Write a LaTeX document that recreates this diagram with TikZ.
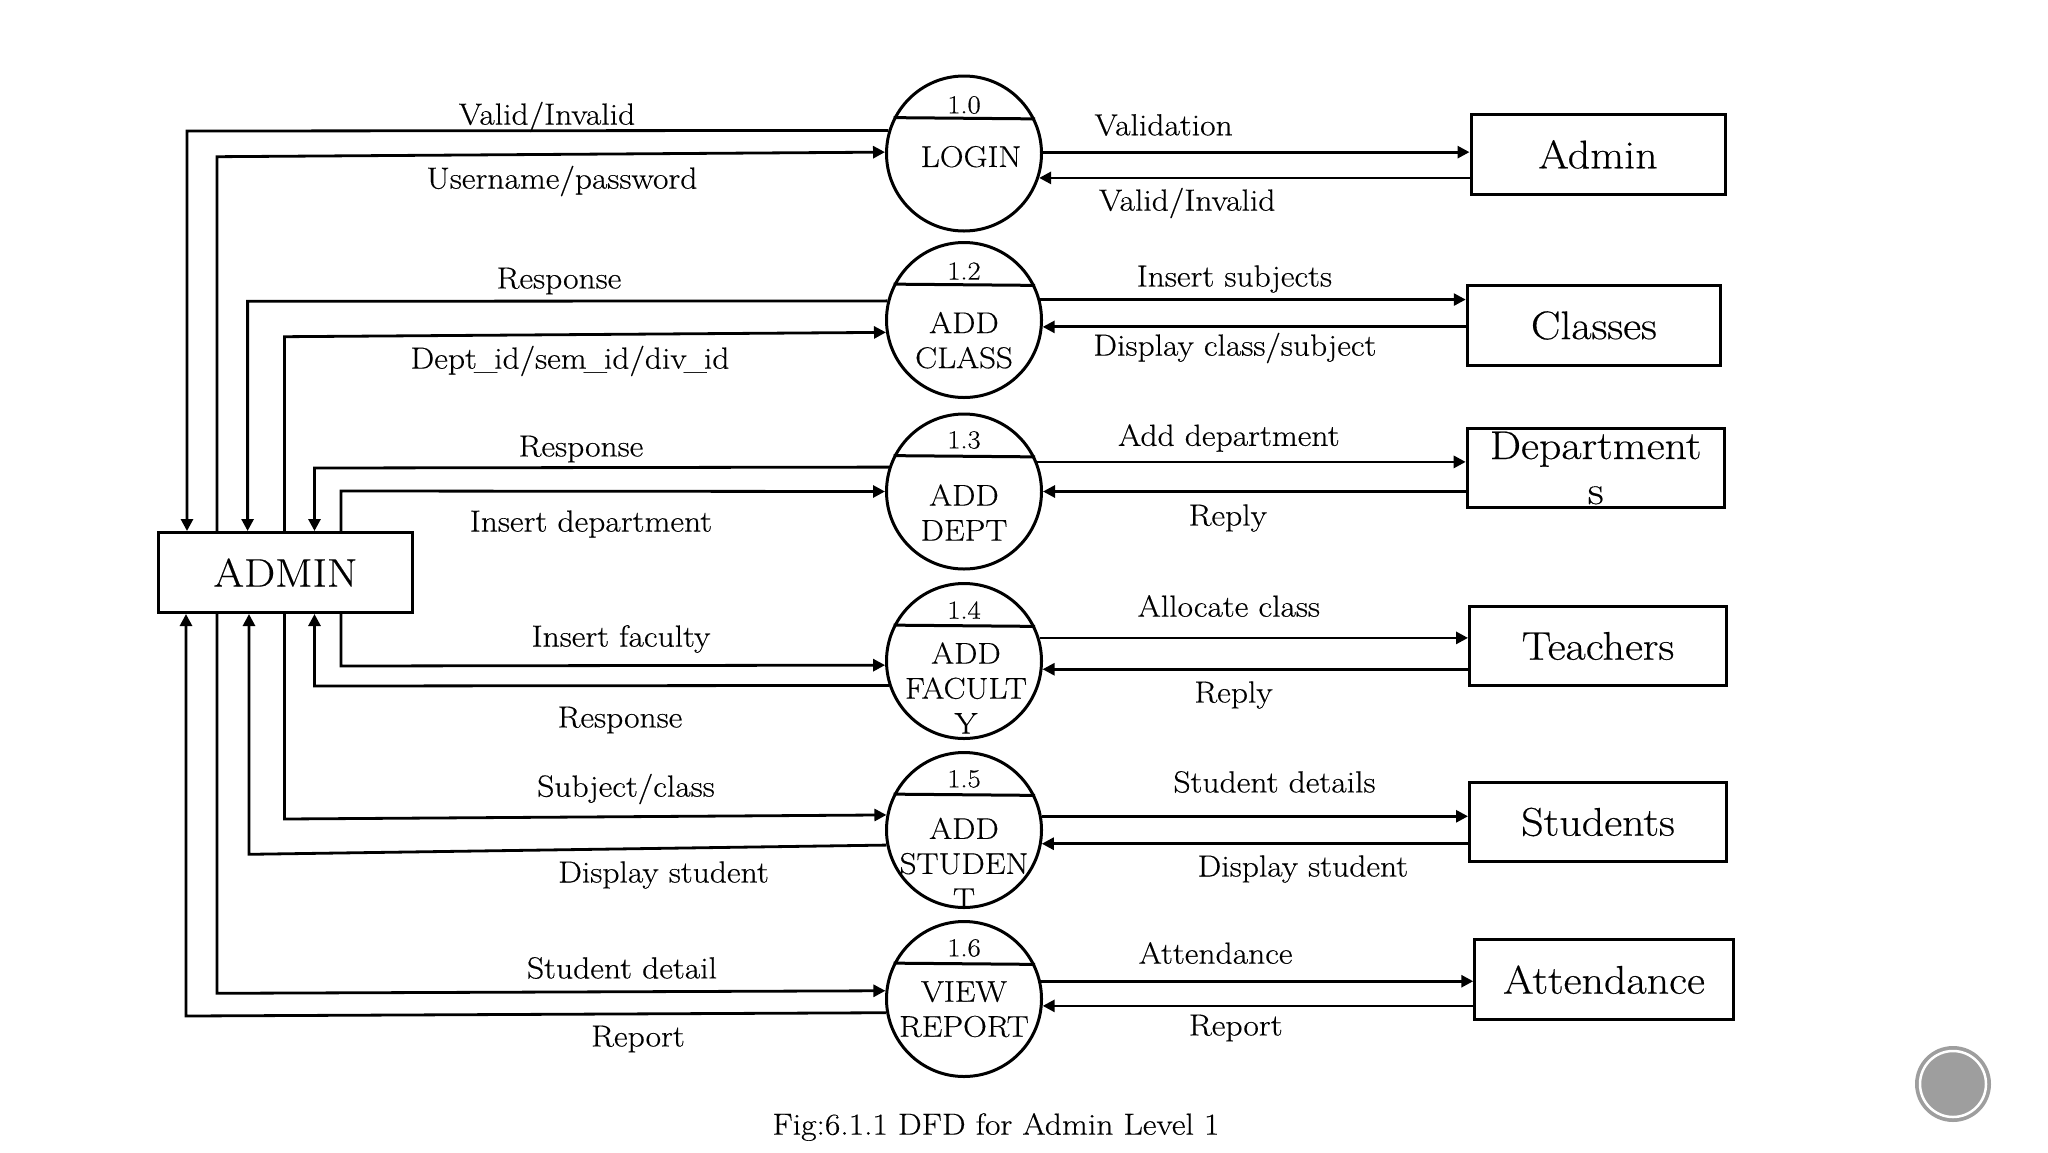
\documentclass[tikz,border=0pt]{standalone}
\usepackage{fontspec}
\setmainfont{Latin Modern Roman}[FakeStretch=1.1, FakeBold=0.4]
\usetikzlibrary{arrows.meta,calc}
\definecolor{logogray}{HTML}{9E9E9E}
\newcommand\usc{\kern-3pt\_\kern-3pt}
\tikzset{
  lbl/.style={font=\fontsize{30.5}{36}\selectfont, inner sep=0pt},
  proc/.style={circle, draw, line width=3pt, minimum size=155pt, inner sep=0pt},
  ent/.style={draw, line width=3pt, inner sep=0pt, font=\fontsize{40}{45}\selectfont, align=center},
  flow/.style={line width=2.8pt, -{Triangle[length=12pt,width=12pt]}},
  chord/.style={line width=3pt},
  ptxt/.style={font=\fontsize{30}{35}\selectfont, align=center, inner sep=0pt},
  pnum/.style={font=\fontsize{26}{30}\selectfont, inner sep=0pt},
}
\begin{document}
\begin{tikzpicture}[x=1pt,y=-1pt]
\useasboundingbox (0,0) rectangle (2048,1152);

% processes
\node[proc] (p0) at (964,153.5) {};
\node[proc] (p1) at (964,320) {};
\node[proc] (p2) at (964,491.5) {};
\node[proc] (p3) at (964,661) {};
\node[proc] (p4) at (964,830) {};
\node[proc] (p5) at (964,999) {};
\foreach \p in {p0,p1,p2,p3,p4,p5}{
  \draw[chord] (\p.153.7) -- (\p.26.3);
}
\node[pnum] (n0) at (964,105) {1.0};
\node[pnum] (n1) at (964,271) {1.2};
\node[pnum] (n2) at (964,440) {1.3};
\node[pnum] (n3) at (964,610) {1.4};
\node[pnum] (n4) at (964,779) {1.5};
\node[pnum] (n5) at (964,948) {1.6};
\node[ptxt] (t0) at (971,156.7) {LOGIN};
\node[ptxt] (t1) at (964,340.2) {ADD\\CLASS};
\node[ptxt] (t2) at (964,512.5) {ADD\\DEPT};
\node[ptxt] (t3) at (966,688) {ADD\\FACULT\\Y};
\node[ptxt] (t4) at (964,863.3) {ADD\\STUDEN\\T};
\node[ptxt] (t5) at (964,1009.2) {VIEW\\REPORT};

% entities
\node[ent, minimum width=254pt, minimum height=80pt] (admin) at (285.5,572.5) {ADMIN};
\node[ent, minimum width=254pt, minimum height=80pt] (adm) at (1598,154.4) {Admin};
\node[ent, minimum width=253.3pt, minimum height=79.4pt] (cls) at (1593.9,325.5) {Classes};
\node[ent, minimum width=257pt, minimum height=79.6pt] (dep) at (1595.7,468) {Department\\s};
\node[ent, minimum width=257pt, minimum height=79.6pt] (tea) at (1598,646) {Teachers};
\node[ent, minimum width=257pt, minimum height=79.6pt] (stu) at (1598,822) {Students};
\node[ent, minimum width=258.5pt, minimum height=79.7pt] (att) at (1604,979.7) {Attendance};

% left connectors (top of ADMIN)
\coordinate (a1) at (187,131);
\coordinate (a2) at (217,156.7);
\coordinate (a3) at (247.6,301.3);
\coordinate (a4) at (284.5,336.7);
\coordinate (a5) at (314.5,468);
\coordinate (a6) at (341,491);
\draw[flow] (p0.163.2) -- (a1) -- (admin.north -| a1);
\draw[flow] (admin.north -| a2) -- (a2) -- (p0.179.4);
\draw[flow] (p1.166.3) -- (a3) -- (admin.north -| a3);
\draw[flow] (admin.north -| a4) -- (a4) -- (p1.189.5);
\draw[flow] (p2.162.7) -- (a5) -- (admin.north -| a5);
\draw[flow] (admin.north -| a6) -- (a6) -- (p2.180);
% left connectors (bottom of ADMIN)
\coordinate (b1) at (341,666);
\coordinate (b2) at (314.5,686);
\coordinate (b3) at (284.5,819);
\coordinate (b4) at (249,854.3);
\coordinate (b5) at (217,993.3);
\coordinate (b6) at (186,1016);
\draw[flow] (admin.south -| b1) -- (b1) -- (p3.183.6);
\draw[flow] (p3.198.5) -- (b2) -- (admin.south -| b2);
\draw[flow] (admin.south -| b3) -- (b3) -- (p4.169);
\draw[flow] (p4.191.5) -- (b4) -- (admin.south -| b4);
\draw[flow] (admin.south -| b5) -- (b5) -- (p5.174.2);
\draw[flow] (p5.190.4) -- (b6) -- (admin.south -| b6);

% right connectors
\draw[flow] (p0.1.8) -- (adm.west |- p0.1.8);
\draw[flow] (adm.west |- p0.342.2) -- (p0.342.2);
\draw[flow] (p1.15.4) -- (cls.west |- p1.15.4);
\draw[flow] (cls.west |- p1.355.6) -- (p1.355.6);
\draw[flow] (p2.22.7) -- (dep.west |- p2.22.7);
\draw[flow] (dep.west |- p2.0.4) -- (p2.0.4);
\draw[flow] (p3.17.9) -- (tea.west |- p3.17.9);
\draw[flow] (tea.west |- p3.354) -- (p3.354);
\draw[flow] (p4.10.9) -- (stu.west |- p4.10.9);
\draw[flow] (stu.west |- p4.350.3) -- (p4.350.3);
\draw[flow] (p5.13.9) -- (att.west |- p5.13.9);
\draw[flow] (att.west |- p5.355.6) -- (p5.355.6);

% left labels
\node[lbl] (l1) at (547,117) {Valid/Invalid};
\node[lbl] (l2) at (562,181) {Username/password};
\node[lbl] (l3) at (559,281) {Response};
\node[lbl] (l4) at (570,361) {Dept\usc id/sem\usc id/div\usc id};
\node[lbl] (l5) at (581,449) {Response};
\node[lbl] (l6) at (591,524) {Insert department};
\node[lbl] (l7) at (621,639) {Insert faculty};
\node[lbl] (l8) at (620,720) {Response};
\node[lbl] (l9) at (626,789) {Subject/class};
\node[lbl] (l10) at (663.5,875) {Display student};
\node[lbl] (l11) at (622,968) {Student detail};
\node[lbl] (l12) at (638,1039) {Report};
% right labels
\node[lbl] (r1) at (1163.6,125) {Validation};
\node[lbl] (r2) at (1187.2,203) {Valid/Invalid};
\node[lbl] (r3) at (1234.4,279) {Insert subjects};
\node[lbl] (r4) at (1234.9,348) {Display class/subject};
\node[lbl] (r5) at (1228.8,438) {Add department};
\node[lbl] (r6) at (1227.8,518) {Reply};
\node[lbl] (r7) at (1228.8,606) {Allocate class};
\node[lbl] (r8) at (1233.5,695) {Reply};
\node[lbl] (r9) at (1274.5,782) {Student details};
\node[lbl] (r10) at (1302.9,869) {Display student};
\node[lbl] (r11) at (1215.6,953) {Attendance};
\node[lbl] (r12) at (1235.8,1028) {Report};

% caption
\node[lbl] (cap) at (996,1127) {Fig:6.1.1 DFD for Admin Level 1};

% logo
\fill[logogray] (1953,1084) circle[radius=38pt];
\draw[white, line width=2.5pt] (1953,1084) circle[radius=33pt];
\end{tikzpicture}
\end{document}
